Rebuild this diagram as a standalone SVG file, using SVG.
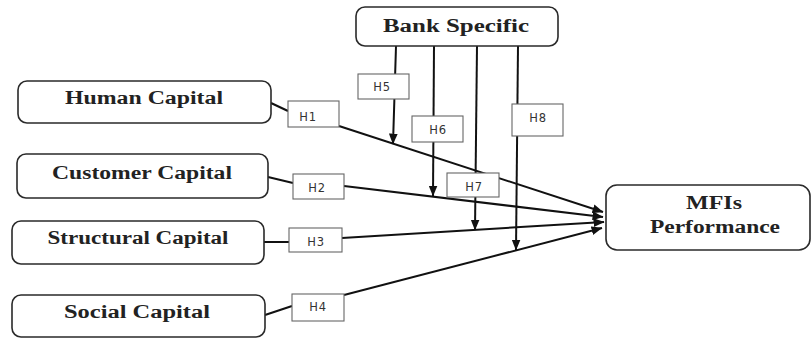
<svg xmlns="http://www.w3.org/2000/svg" width="812" height="339" viewBox="0 0 812 339">
<style>
.node{fill:#fff;stroke:#2a2a2a;stroke-width:1.6}
.nt{font-family:"Liberation Serif","Times New Roman",serif;font-weight:bold;font-size:18px;fill:#222;text-anchor:middle}
.edge{stroke:#111;stroke-width:2;fill:none}
.lb{fill:#fff;stroke:#666;stroke-width:1.1}
.lt{font-family:"DejaVu Sans",Verdana,sans-serif;font-size:11.5px;fill:#333;text-anchor:middle;letter-spacing:0.8px}
</style>
<defs>
<marker id="ah" viewBox="0 0 10 8" refX="9.5" refY="4" markerWidth="11" markerHeight="9" markerUnits="userSpaceOnUse" orient="auto">
<path d="M0,0 L10,4 L0,8 z" fill="#111"/>
</marker>
</defs>
<rect width="812" height="339" fill="#fff"/>

<g id="connectors">
<line class="edge" x1="271" y1="103" x2="288" y2="111"/>
<line class="edge" x1="268" y1="177" x2="293" y2="183"/>
<line class="edge" x1="264" y1="242" x2="289" y2="242"/>
<line class="edge" x1="265" y1="315" x2="292" y2="306"/>
<line class="edge" x1="339" y1="126" x2="603" y2="212" marker-end="url(#ah)"/>
<line class="edge" x1="344" y1="186" x2="603" y2="217" marker-end="url(#ah)"/>
<line class="edge" x1="342" y1="238" x2="604" y2="222" marker-end="url(#ah)"/>
<line class="edge" x1="344" y1="295" x2="602" y2="228" marker-end="url(#ah)"/>
<line class="edge" x1="396" y1="46" x2="393" y2="144" marker-end="url(#ah)"/>
<line class="edge" x1="434" y1="46" x2="433" y2="196" marker-end="url(#ah)"/>
<line class="edge" x1="477" y1="46" x2="475" y2="230" marker-end="url(#ah)"/>
<line class="edge" x1="518" y1="46" x2="516" y2="250" marker-end="url(#ah)"/>
</g>

<g id="labels">
<rect class="lb" x="288" y="101" width="51" height="26"/>
<text class="lt" x="308" y="121">H1</text>
<rect class="lb" x="293" y="174" width="51" height="25"/>
<text class="lt" x="317" y="192">H2</text>
<rect class="lb" x="289" y="228" width="53" height="24"/>
<text class="lt" x="316" y="246">H3</text>
<rect class="lb" x="292" y="294" width="52" height="27"/>
<text class="lt" x="318" y="311">H4</text>
<rect class="lb" x="358" y="74" width="51" height="25"/>
<text class="lt" x="382" y="91">H5</text>
<rect class="lb" x="412" y="116" width="51" height="26"/>
<text class="lt" x="438" y="134">H6</text>
<rect class="lb" x="447" y="173" width="52" height="24"/>
<text class="lt" x="474" y="191">H7</text>
<rect class="lb" x="512" y="104" width="51" height="32"/>
<text class="lt" x="538" y="122">H8</text>
</g>

<g id="bank-specific">
<rect class="node" x="356" y="7" width="202" height="39" rx="9"/>
<text class="nt" x="456" y="32" font-size="19" textLength="146" lengthAdjust="spacingAndGlyphs">Bank Specific</text>
</g>
<g id="human-capital">
<rect class="node" x="18" y="81" width="253" height="42" rx="9"/>
<text class="nt" x="144" y="104" textLength="158" lengthAdjust="spacingAndGlyphs">Human Capital</text>
</g>
<g id="customer-capital">
<rect class="node" x="17" y="154" width="251" height="44" rx="9"/>
<text class="nt" x="142" y="179" textLength="180" lengthAdjust="spacingAndGlyphs">Customer Capital</text>
</g>
<g id="structural-capital">
<rect class="node" x="12" y="221" width="252" height="43" rx="9"/>
<text class="nt" x="138" y="244" textLength="181" lengthAdjust="spacingAndGlyphs">Structural Capital</text>
</g>
<g id="social-capital">
<rect class="node" x="12" y="295" width="253" height="42" rx="9"/>
<text class="nt" x="137" y="318" textLength="146" lengthAdjust="spacingAndGlyphs">Social Capital</text>
</g>
<g id="mfis-performance">
<rect class="node" x="606" y="185" width="204" height="65" rx="11"/>
<text class="nt" x="714" y="209" font-size="18.5" textLength="56" lengthAdjust="spacingAndGlyphs">MFIs</text>
<text class="nt" x="715" y="233" font-size="18.5" textLength="130" lengthAdjust="spacingAndGlyphs">Performance</text>
</g>
</svg>
